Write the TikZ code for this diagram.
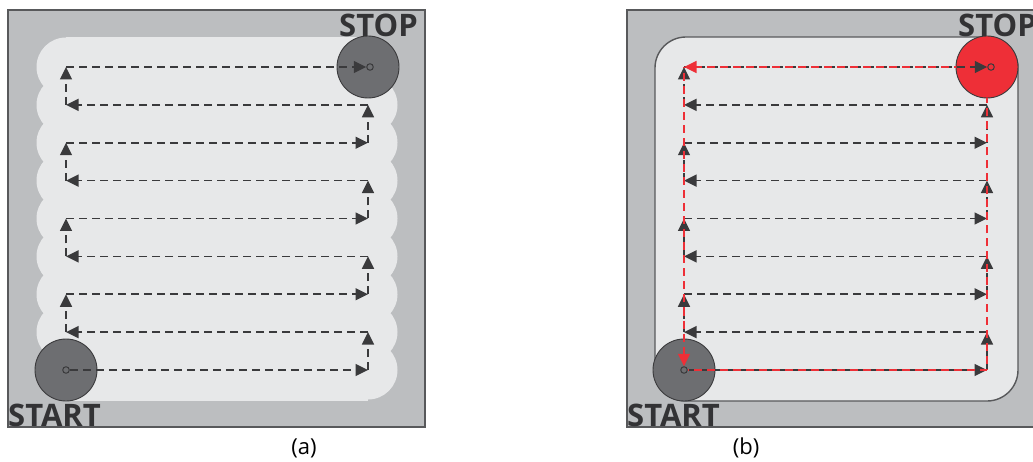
\documentclass[tikz,border=0pt]{standalone}
\usepackage{fontspec}
\setmainfont{Open Sans}
\usetikzlibrary{arrows.meta}
\definecolor{bggray}{HTML}{BCBEC0}
\definecolor{lightfill}{HTML}{E7E8E9}
\definecolor{framecol}{HTML}{58595B}
\definecolor{robotgray}{HTML}{6D6E71}
\definecolor{robotedge}{HTML}{3A3A3C}
\definecolor{pathgray}{HTML}{3A3A3C}
\definecolor{redpath}{HTML}{EE2F37}
\definecolor{textgray}{HTML}{333335}
\begin{document}
\begin{tikzpicture}[x=1pt,y=-1pt,
  tipshape/.style={-{Triangle[length=12.5pt,width=12pt]}},
  pathline/.style={draw=pathgray,line width=1.6pt,dash pattern=on 8pt off 5pt,tipshape},
  redline/.style={draw=redpath,line width=1.6pt,dash pattern=on 8pt off 5pt,dash phase=6.5pt},
  robot/.style={circle,minimum size=62pt,inner sep=0pt,draw=robotedge,line width=0.9pt},
  marker/.style={circle,minimum size=6.5pt,inner sep=0pt,draw=pathgray,line width=1pt},
  bigword/.style={inner sep=0pt,text=textgray,font=\fontsize{31}{31}\selectfont\bfseries},
  caption/.style={inner sep=0pt,text=black,font=\fontsize{22}{22}\selectfont},
  framebox/.style={fill=bggray,draw=framecol,line width=1.6pt}]
\useasboundingbox (0,0) rectangle (1033,462);
\fill[white] (0,0) rectangle (1033,462);
\clip (0,0) rectangle (1033,462);

% corner coordinates of the rows
\foreach \i/\y in {1/370,2/332.1,3/294.25,4/256.4,5/218.5,6/180.6,7/142.75,8/104.9,9/67}{
  \coordinate (aL\i) at (66,\y);
  \coordinate (aR\i) at (368,\y);
  \coordinate (bL\i) at (684,\y);
  \coordinate (bR\i) at (987,\y);
}

% ---------- panel (a) ----------
\draw[framebox] (8,10) rectangle (425,427);
\fill[lightfill] (66,37) rectangle (368,400.5);
\foreach \i in {1,...,9}{
  \fill[lightfill] (aL\i) circle[radius=29.5];
  \fill[lightfill] (aR\i) circle[radius=29.5];
}
\node[robot,fill=robotgray] (astart) at (aL1) {};
\node[robot,fill=robotgray] (astop) at (aR9) {};
\node[marker,fill=robotgray] (asm) at (aL1) {};
\node[marker,fill=robotgray] (aem) at (370,67) {};

% ---------- panel (b) ----------
\draw[framebox] (627,10) rectangle (1045,427);
\draw[fill=lightfill,draw=framecol,line width=1.4pt,rounded corners=31pt] (655,37) rectangle (1018,401);
\node[robot,fill=robotgray] (bstart) at (bL1) {};
\node[robot,fill=redpath] (bstop) at (bR9) {};
\node[marker,fill=robotgray] (bsm) at (bL1) {};

% ---------- grey zig-zag paths ----------
\foreach \p in {a,b}{
  \draw[pathline] (\p sm) -- (\p R1);
  \foreach \k/\n/\m in {1/2/3,3/4/5,5/6/7,7/8/9}{
    \draw[pathline] (\p R\k) -- (\p R\n);
    \draw[pathline] (\p R\n) -- (\p L\n);
    \draw[pathline] (\p L\n) -- (\p L\m);
  }
  \foreach \m in {3,5,7}{
    \draw[pathline] (\p L\m) -- (\p R\m);
  }
}
\draw[pathline] (aL9) -- (aem);
\node[marker,draw=pathgray,fill=none] (bem) at (991,67) {};
\draw[pathline] (bL9) -- (bem.west);

% ---------- red perimeter path (b) ----------
\draw[redline,tipshape] (bstop.west) -- (bL9);
\draw[redline,tipshape] (bL9) -- (bsm);
\draw[redline] (bsm) -- (bR1);
\draw[redline] (bR1) -- (bstop.south);

% ---------- texts ----------
\node[bigword,anchor=base west] (astoptxt) at (339,37) {STOP};
\node[bigword,anchor=base west] (astarttxt) at (8,426) {START};
\node[bigword,anchor=base west] (bstoptxt) at (958,37) {STOP};
\node[bigword,anchor=base west] (bstarttxt) at (627,426) {START};
\node[caption] (capa) at (304,448) {(a)};
\node[caption] (capb) at (746,448) {(b)};
\end{tikzpicture}
\end{document}
